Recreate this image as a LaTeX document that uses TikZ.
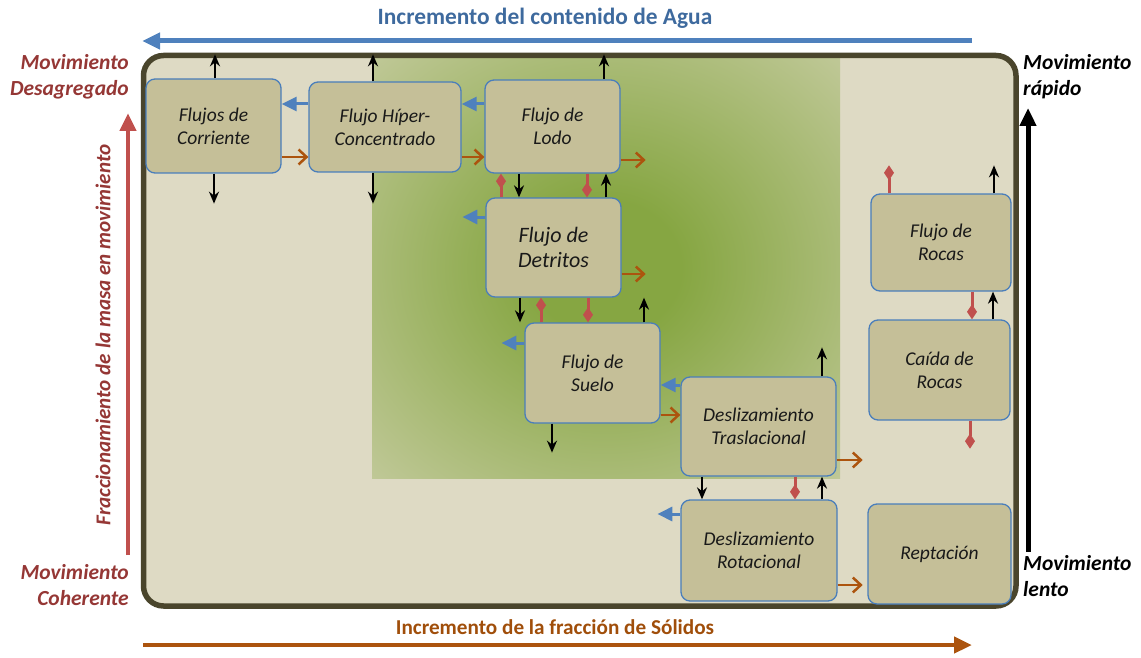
\documentclass[tikz,border=0pt]{standalone}
\usepackage{fontspec}
\setmainfont{Carlito}
\usetikzlibrary{arrows.meta, calc}

\definecolor{fondo}{RGB}{222,218,196}
\definecolor{caja}{RGB}{197,191,152}
\definecolor{borde}{RGB}{74,126,187}
\definecolor{marco}{RGB}{74,69,44}
\definecolor{verde}{RGB}{134,166,66}
\definecolor{azul}{RGB}{79,129,189}
\definecolor{azultxt}{RGB}{62,106,158}
\definecolor{cafe}{RGB}{172,84,14}
\definecolor{cafetxt}{RGB}{160,78,10}
\definecolor{rojo}{RGB}{192,80,77}
\definecolor{rojotxt}{RGB}{149,55,53}

\pgfdeclareradialshading{manchaverde}{\pgfpoint{0bp}{0bp}}{%
  color(0bp)=(verde); color(8bp)=(verde); color(50bp)=(fondo); color(100bp)=(fondo)}

\begin{document}
\begin{tikzpicture}[
    x=1pt, y=-1pt,
    every node/.style={font=\fontsize{19.5}{23}\selectfont\itshape, text=black!90},
    proceso/.style={rectangle, draw=borde, line width=1.3pt, fill=caja, rounded corners=9pt, align=center, inner sep=0pt},
    eje/.style={font=\fontsize{21.5}{26}\selectfont\bfseries\itshape, inner sep=0pt},
    blk/.style={-{Stealth[length=12pt, width=10pt]}, line width=2pt, black},
    agua/.style={-{Triangle[length=15pt, width=14pt]}, line width=3pt, azul},
    solido/.style={-{Straight Barb[length=8pt, width=15pt]}, line width=2.5pt, cafe},
    rombo/.style={-{Diamond[length=15pt, width=10pt]}, line width=3pt, rojo},
    gruesa/.style={-{Triangle[length=18pt, width=16pt]}, line width=5pt}
]
\useasboundingbox (0,0) rectangle (1141,658);

% ============ FONDO ============
\fill[fondo, rounded corners=20pt] (143.5,55.5) rectangle (1016,606);
\shade[shading=manchaverde] (372,58) rectangle (840,478);
\draw[marco, line width=5.5pt, rounded corners=20pt] (143.5,55.5) rectangle (1016,606);

% ============ PROCESOS ============
\node[proceso, minimum width=135pt, minimum height=94pt] (corr) at (213.5,126) {Flujos de\\Corriente};
\node[proceso, minimum width=152pt, minimum height=90pt] (hiper) at (385,127) {Flujo Híper-\\Concentrado};
\node[proceso, minimum width=135pt, minimum height=93pt] (lodo) at (552.5,126.5) {Flujo de\\Lodo};
\node[proceso, minimum width=135pt, minimum height=99pt, font=\fontsize{22}{25}\selectfont\itshape] (detr) at (553.5,247.5) {Flujo de\\Detritos};
\node[proceso, minimum width=135pt, minimum height=100pt] (suelo) at (592.5,373) {Flujo de\\Suelo};
\node[proceso, minimum width=155pt, minimum height=99pt] (tras) at (758.5,426.5) {Deslizamiento\\Traslacional};
\node[proceso, minimum width=156pt, minimum height=101pt] (rot) at (759,550.5) {Deslizamiento\\Rotacional};
\node[proceso, minimum width=143pt, minimum height=100pt] (rept) at (939.5,554) {Reptación};
\node[proceso, minimum width=140pt, minimum height=97pt] (rocas) at (941,242.5) {Flujo de\\Rocas};
\node[proceso, minimum width=141pt, minimum height=100pt] (caida) at (939.5,370) {Caída de\\Rocas};

% ============ FLECHAS ENTRE PROCESOS ============
% fila superior
\draw[agua] ([yshift=23pt]hiper.west) -- ([yshift=23pt]hiper.west -| corr.east);
\draw[solido] ([yshift=-31pt]corr.east) -- ([yshift=-31pt]corr.east -| hiper.west);
\draw[agua] ([yshift=22.5pt]lodo.west) -- ([yshift=22.5pt]lodo.west -| hiper.east);
\draw[solido] ([yshift=-30pt]hiper.east) -- ([yshift=-30pt]hiper.east -| lodo.west);

% lodo - detritos
\draw[blk] ([xshift=-33.5pt]lodo.south) -- ([xshift=-33.5pt]lodo.south |- detr.north);
\draw[rombo] ([xshift=-52.5pt]detr.north) -- ([xshift=-52.5pt]detr.north |- lodo.south);
\draw[rombo] ([xshift=34.5pt]lodo.south) -- ([xshift=34.5pt]lodo.south |- detr.north);
\draw[blk] ([xshift=52.5pt]detr.north) -- ([xshift=52.5pt]detr.north |- lodo.south);

% detritos - suelo
\draw[blk] ([xshift=-33.5pt]detr.south) -- ([xshift=-33.5pt]detr.south |- suelo.north);
\draw[rombo] ([xshift=-51.5pt]suelo.north) -- ([xshift=-51.5pt]suelo.north |- detr.south);
\draw[rombo] ([xshift=34.5pt]detr.south) -- ([xshift=34.5pt]detr.south |- suelo.north);
\draw[blk] ([xshift=51.5pt]suelo.north) -- ([xshift=51.5pt]suelo.north |- detr.south);

% suelo - traslacional
\draw[agua] ([yshift=41.5pt]tras.west) -- ([yshift=41.5pt]tras.west -| suelo.east);
\draw[solido] ([yshift=-42pt]suelo.east) -- ([yshift=-42pt]suelo.east -| tras.west);

% traslacional - rotacional
\draw[blk] ([xshift=-56.5pt]tras.south) -- ([xshift=-56.5pt]tras.south |- rot.north);
\draw[rombo] ([xshift=36.5pt]tras.south) -- ([xshift=36.5pt]tras.south |- rot.north);
\draw[blk] ([xshift=63pt]rot.north) -- ([xshift=63pt]rot.north |- tras.south);

% rocas - caida
\draw[rombo] ([xshift=31pt]rocas.south) -- ([xshift=31pt]rocas.south |- caida.north);
\draw[blk] ([xshift=53.5pt]caida.north) -- ([xshift=53.5pt]caida.north |- rocas.south);

% ============ FLECHAS SUELTAS ============
\draw[blk] ([xshift=1.5pt]corr.north) -- ++(0,-24);
\draw[blk] ([xshift=0.5pt]corr.south) -- ++(0,30);
\draw[blk] ([xshift=-12pt]hiper.north) -- ++(0,-27);
\draw[blk] ([xshift=-12pt]hiper.south) -- ++(0,31);
\draw[blk] ([xshift=51.5pt]lodo.north) -- ++(0,-25);
\draw[solido] ([yshift=-33.5pt]lodo.east) -- ++(25,0);
\draw[agua] ([yshift=30.5pt]detr.west) -- ++(-23,0);
\draw[solido] ([yshift=-26.5pt]detr.east) -- ++(24,0);
\draw[agua] ([yshift=30pt]suelo.west) -- ++(-23,0);
\draw[blk] ([xshift=-40.5pt]suelo.south) -- ++(0,29);
\draw[blk] ([xshift=63.5pt]tras.north) -- ++(0,-29);
\draw[solido] ([yshift=-33.5pt]tras.east) -- ++(26,0);
\draw[agua] ([yshift=36.5pt]rot.west) -- ++(-23,0);
\draw[solido] ([yshift=-34.5pt]rot.east) -- ++(25,0);
\draw[rombo] ([xshift=-52pt]rocas.north) -- ++(0,-28);
\draw[blk] ([xshift=53pt]rocas.north) -- ++(0,-28);
\draw[rombo] ([xshift=30.5pt]caida.south) -- ++(0,28);

% ============ EJES ============
\coordinate (aguaA) at (972,41);
\coordinate (aguaB) at (142,41);
\coordinate (solA) at (143,645);
\coordinate (solB) at (972,645);
\coordinate (fracA) at (128,555);
\coordinate (fracB) at (128,113);
\coordinate (velA) at (1028,552);
\coordinate (velB) at (1028,108);

\draw[gruesa, azul] (aguaA) -- (aguaB);
\draw[gruesa, cafe, line width=4.5pt] (solA) -- (solB);
\draw[gruesa, rojo, line width=4.5pt] (fracA) -- (fracB);
\draw[gruesa, black] (velA) -- (velB);

\node[font=\fontsize{23.4}{28}\selectfont\bfseries, text=azultxt] (tagua) at (545,18) {Incremento del contenido de Agua};
\node[font=\fontsize{21.2}{25}\selectfont\bfseries, text=cafetxt] (tsol) at (555,627) {Incremento de la fracción de Sólidos};
\node[eje, text=rojotxt, rotate=90, font=\fontsize{21.1}{25}\selectfont\bfseries\itshape] (tfrac) at (103,335) {Fraccionamiento de la masa en movimiento};

\node[eje, text=rojotxt, align=right, anchor=east] (desag) at (129,77) {Movimiento\\Desagregado};
\node[eje, text=rojotxt, align=right, anchor=east] (coher) at (129,585) {Movimiento\\Coherente};
\node[eje, text=black, align=left, anchor=west] (rapido) at (1023,77) {Movimiento\\rápido};
\node[eje, text=black, align=left, anchor=west] (lento) at (1023,576) {Movimiento\\lento};

\end{tikzpicture}
\end{document}
